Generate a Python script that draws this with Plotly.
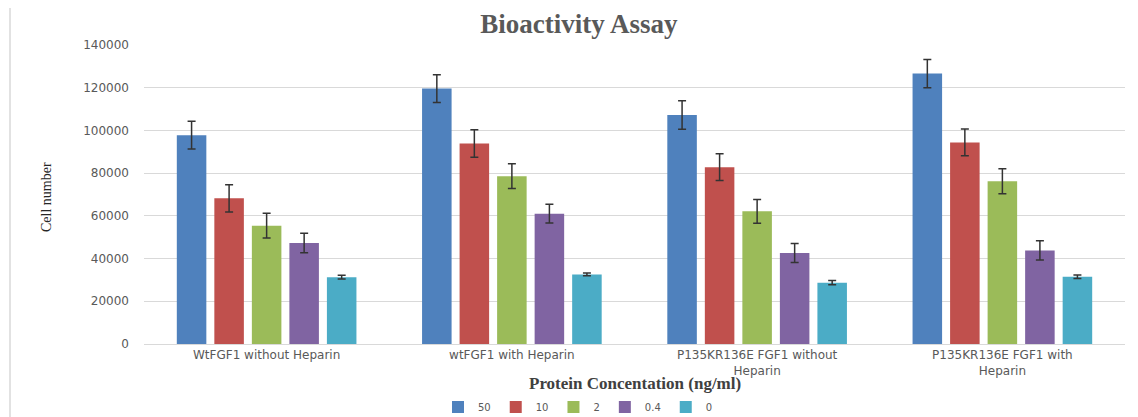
import plotly.graph_objects as go

categories = [
    "WtFGF1 without Heparin",
    "wtFGF1 with Heparin",
    "P135KR136E FGF1 without<br>Heparin",
    "P135KR136E FGF1 with<br>Heparin",
]
series_names = ["50", "10", "2", "0.4", "0"]
values_50 = [97800, 119600, 107200, 126600]
values_10 = [68200, 93900, 82800, 94400]
values_2 = [55400, 78600, 62100, 76200]
values_04 = [47300, 61000, 42600, 43800]
values_0 = [31300, 32600, 28700, 31500]
err_50 = [6500, 6500, 6700, 6600]
err_10 = [6400, 6400, 6300, 6300]
err_2 = [5800, 5800, 5600, 5800]
err_04 = [4600, 4400, 4400, 4500]
err_0 = [900, 600, 1000, 800]
y_ticks = [0, 20000, 40000, 60000, 80000, 100000, 120000, 140000]

colors = ["#4F81BD", "#C0504D", "#9BBB59", "#8064A2", "#4BACC6"]
all_vals = [values_50, values_10, values_2, values_04, values_0]
all_errs = [err_50, err_10, err_2, err_04, err_0]

fig = go.Figure()
for name, vals, errs, col in zip(series_names, all_vals, all_errs, colors):
    fig.add_trace(go.Bar(
        name=name, x=categories, y=vals,
        marker=dict(color=col, line=dict(width=0)),
        error_y=dict(type="data", array=errs, visible=True,
                     color="#333333", thickness=1.5, width=4),
    ))

# The page body has an 8px margin, so the figure is shifted by OFF.
OFF = 8
W, H = 1138 - OFF, 417 - OFF
L, T = 144 - OFF, 45 - OFF
R = W - (1125 - OFF)
B = H - (344 - OFF)
pw, ph = W - L - R, H - T - B

def px_x(x):
    return (x - OFF - L) / pw

def px_y(y):
    return (H - B - (y - OFF)) / ph

fig.update_layout(
    width=W, height=H,
    margin=dict(l=L, r=R, t=T, b=B, autoexpand=False),
    paper_bgcolor="white", plot_bgcolor="white",
    barmode="group", bargap=0.235, bargroupgap=0.213,
    font=dict(family="DejaVu Sans", color="#595959"),
    title=dict(text="<b>Bioactivity Assay</b>",
               font=dict(family="Liberation Serif", size=27, color="#595959"),
               x=px_x(579), xref="paper", xanchor="center",
               y=1 - (24 - OFF) / H, yref="container", yanchor="middle"),
    xaxis=dict(
        showgrid=False, showline=True, linecolor="#d9d9d9", linewidth=1,
        ticks="", tickfont=dict(size=12, color="#595959"),
        automargin=False,
    ),
    yaxis=dict(
        range=[0, 140000], tickvals=y_ticks, ticktext=[str(v) for v in y_ticks],
        showgrid=True, gridcolor="#d9d9d9", gridwidth=1,
        zeroline=False, showline=False, ticks="",
        tickfont=dict(size=12, color="#595959"), ticklabelstandoff=14,
        automargin=False,
    ),
    legend=dict(orientation="h", x=px_x(578), xanchor="center",
                y=px_y(407), yanchor="middle",
                font=dict(size=10, color="#595959"), traceorder="normal"),
    showlegend=True,
    annotations=[
        dict(text="<b>Protein Concentation (ng/ml)</b>", xref="paper", yref="paper",
             x=px_x(635), y=px_y(383), xanchor="center", yanchor="middle",
             showarrow=False,
             font=dict(family="Liberation Serif", size=17, color="#404040")),
        dict(text="Cell number", xref="paper", yref="paper",
             x=px_x(46), y=px_y(197), xanchor="center", yanchor="middle",
             textangle=-90, showarrow=False,
             font=dict(family="Liberation Serif", size=14, color="#262626")),
    ],
)

fig.add_shape(type="rect", xref="paper", yref="paper",
              x0=px_x(10), x1=px_x(1150), y0=px_y(430), y1=px_y(7),
              line=dict(color="#d9d9d9", width=1.5), fillcolor="rgba(0,0,0,0)",
              layer="below")

fig.write_html("out.html")
